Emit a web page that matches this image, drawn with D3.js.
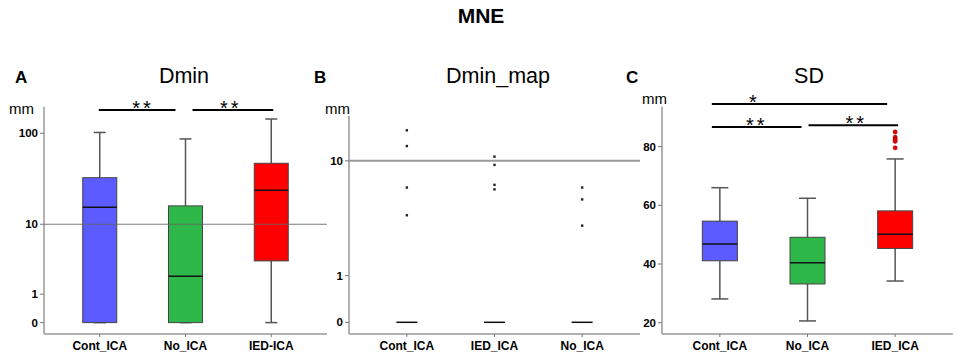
<!DOCTYPE html>
<html><head><meta charset="utf-8">
<script src="https://cdn.jsdelivr.net/npm/d3@7"></script>
<style>body{margin:0;background:#fff}svg{display:block}text{font-family:Arial,"Liberation Sans",sans-serif}</style>
</head><body><svg id="c" width="957" height="359"></svg>
<script>
// ---------- DATA ----------
const mainTitle = "MNE";
// Panel A: Dmin (log(x+1) axis)
const catsA = ["Cont_ICA", "No_ICA", "IED-ICA"];
const dminLow = [0, 0, 0];
const dminQ1 = [0, 0, 3.5];
const dminMed = [15.6, 2.1, 24.2];
const dminQ3 = [33.2, 16.2, 47.6];
const dminHigh = [102, 87, 142];
const ticksA = [0, 1, 10, 100];
// Panel B: Dmin_map
const catsB = ["Cont_ICA", "IED_ICA", "No_ICA"];
const dminMapMed = [0, 0, 0];
const dminMapOutliers = [[16.3, 12.7, 6.4, 3.9], [10.7, 9.35, 6.7, 6.2], [6.4, 5.2, 3.2]];
const ticksB = [0, 1, 10];
// Panel C: SD
const catsC = ["Cont_ICA", "No_ICA", "IED_ICA"];
const sdLow = [28.1, 20.6, 34.2];
const sdQ1 = [41.1, 33.2, 45.3];
const sdMed = [46.8, 40.4, 50.1];
const sdQ3 = [54.6, 49.1, 58.1];
const sdHigh = [66.0, 62.4, 75.8];
const sdOutliers = [[], [], [85.0, 83.2, 82.5, 81.8, 79.6]];
const ticksC = [20, 40, 60, 80];
const boxColors = ["#5b5bff", "#2fb84a", "#ff0000"];
// significance: [fromIndex, toIndex, label]
const sigA = [[0, 1, "**"], [1, 2, "**"]];
const sigC = [[0, 2, "*"], [0, 1, "**"], [1, 2, "**"]];

// ---------- DRAW ----------
const svg = d3.select("#c");
svg.append("text").attr("x", 481).attr("y", 23).attr("text-anchor", "middle")
  .attr("font-size", 21).attr("font-weight", "bold").text(mainTitle);

function axes(g, x, y, ticks, fmt, x0, x1, yTop) {
  const yb = y.range()[0];
  g.append("line").attr("x1", x0).attr("x2", x0).attr("y1", yTop).attr("y2", yb)
    .attr("stroke", "#999").attr("stroke-width", 1.5);
  g.append("line").attr("x1", x0).attr("x2", x1).attr("y1", yb).attr("y2", yb)
    .attr("stroke", "#999").attr("stroke-width", 1.5);
  ticks.forEach(t => {
    g.append("line").attr("x1", x0 - 4).attr("x2", x0).attr("y1", y(t)).attr("y2", y(t))
      .attr("stroke", "#777").attr("stroke-width", 1);
    g.append("text").attr("x", x0 - 6).attr("y", y(t) + 4).attr("text-anchor", "end")
      .attr("font-size", 11.5).attr("font-weight", "bold").text(fmt(t));
  });
  x.domain().forEach(c => {
    g.append("line").attr("x1", x(c)).attr("x2", x(c)).attr("y1", yb).attr("y2", yb + 3)
      .attr("stroke", "#777").attr("stroke-width", 1);
    g.append("text").attr("x", x(c)).attr("y", yb + 16).attr("text-anchor", "middle")
      .attr("font-size", 12).attr("font-weight", "bold").text(c);
  });
}

function boxes(g, x, y, cats, low, q1, med, q3, high, colors, bw, cw) {
  cats.forEach((c, i) => {
    const cx = x(c);
    g.append("line").attr("x1", cx).attr("x2", cx).attr("y1", y(high[i])).attr("y2", y(q3[i]))
      .attr("stroke", "#555").attr("stroke-width", 1.5);
    g.append("line").attr("x1", cx).attr("x2", cx).attr("y1", y(q1[i])).attr("y2", y(low[i]))
      .attr("stroke", "#555").attr("stroke-width", 1.5);
    g.append("line").attr("x1", cx - cw / 2).attr("x2", cx + cw / 2).attr("y1", y(high[i])).attr("y2", y(high[i]))
      .attr("stroke", "#555").attr("stroke-width", 1.5);
    g.append("line").attr("x1", cx - cw / 2).attr("x2", cx + cw / 2).attr("y1", y(low[i])).attr("y2", y(low[i]))
      .attr("stroke", "#555").attr("stroke-width", 1.5);
    g.append("rect").attr("x", cx - bw / 2).attr("width", bw).attr("y", y(q3[i]))
      .attr("height", Math.max(0, y(q1[i]) - y(q3[i]))).attr("fill", colors[i])
      .attr("stroke", "#444").attr("stroke-width", 1);
    g.append("line").attr("x1", cx - bw / 2).attr("x2", cx + bw / 2).attr("y1", y(med[i])).attr("y2", y(med[i]))
      .attr("stroke", "#111").attr("stroke-width", 1.5);
  });
}

function sig(g, x, cats, list, ys, offs) {
  list.forEach((s, k) => {
    const a = x(cats[s[0]]), b = x(cats[s[1]]);
    const x1 = a - 1 + (offs[k][0] || 0), x2 = b + (offs[k][1] || 0);
    g.append("line").attr("x1", x1).attr("x2", x2).attr("y1", ys[k]).attr("y2", ys[k])
      .attr("stroke", "#000").attr("stroke-width", 2);
    g.append("text").attr("x", (x1 + x2) / 2 + (offs[k][2] || 0)).attr("y", ys[k] + 4.5)
      .attr("text-anchor", "middle").attr("font-size", 20).attr("letter-spacing", 3)
      .text(s[2]);
  });
}

function labels(g, letter, lx, title, tx, mmx, mmy) {
  g.append("text").attr("x", lx).attr("y", 83).attr("font-size", 17).attr("font-weight", "bold").text(letter);
  g.append("text").attr("x", tx).attr("y", 83).attr("text-anchor", "middle").attr("font-size", 21.5).text(title);
  g.append("text").attr("x", mmx).attr("y", mmy).attr("font-size", 15).text("mm");
}

// Panel A
const gA = svg.append("g");
const xA = d3.scalePoint().domain(catsA).range([44, 327]).padding(0.65);
const yA = d3.scaleSymlog().constant(1).domain([-0.32, 192]).range([334, 106.7]);
axes(gA, xA, yA, ticksA, d3.format("d"), 44, 327, 106.7);
boxes(gA, xA, yA, catsA, dminLow, dminQ1, dminMed, dminQ3, dminHigh, boxColors, 34, 12);
gA.append("line").attr("x1", 44).attr("x2", 327).attr("y1", yA(10)).attr("y2", yA(10))
  .attr("stroke", "#666").attr("stroke-width", 1.2).attr("opacity", 0.85);
sig(gA, xA, catsA, sigA, [110, 110], [[0, -10, 6], [8, 2, -2]]);
labels(gA, "A", 15, "Dmin", 184, 9, 114);

// Panel B
const gB = svg.append("g");
const xB = d3.scalePoint().domain(catsB).range([349, 640]).padding(0.66);
const yB = d3.scaleSymlog().constant(1).domain([-0.19, 20.4]).range([334, 116]);
axes(gB, xB, yB, ticksB, d3.format("d"), 349, 640, 116);
gB.append("line").attr("x1", 349).attr("x2", 640).attr("y1", yB(10)).attr("y2", yB(10))
  .attr("stroke", "#999").attr("stroke-width", 2);
catsB.forEach((c, i) => {
  gB.append("line").attr("x1", xB(c) - 10.5).attr("x2", xB(c) + 10.5)
    .attr("y1", yB(dminMapMed[i])).attr("y2", yB(dminMapMed[i])).attr("stroke", "#111").attr("stroke-width", 1.5);
  dminMapOutliers[i].forEach(v => {
    gB.append("rect").attr("x", xB(c) - 1.2).attr("y", yB(v) - 1.2).attr("width", 2.4).attr("height", 2.4).attr("fill", "#222");
  });
});
labels(gB, "B", 314, "Dmin_map", 498, 325, 114);

// Panel C
const gC = svg.append("g");
const xC = d3.scalePoint().domain(catsC).range([662, 953]).padding(0.66);
const yC = d3.scaleLinear().domain([16.15, 93.6]).range([334, 106.7]);
axes(gC, xC, yC, ticksC, d3.format("d"), 662, 953, 106.7);
boxes(gC, xC, yC, catsC, sdLow, sdQ1, sdMed, sdQ3, sdHigh, boxColors, 35, 17);
catsC.forEach((c, i) => {
  sdOutliers[i].forEach(v => {
    gC.append("circle").attr("cx", xC(c)).attr("cy", yC(v)).attr("r", 2.1)
      .attr("fill", "#e00000").attr("stroke", "#a00").attr("stroke-width", 0.6);
  });
});
sig(gC, xC, catsC, sigC, [104, 127, 125.3], [[-7, -8, -45], [-7, -6, 0], [2, 3, 3]]);
labels(gC, "C", 626, "SD", 809, 642, 104);
</script></body></html>
